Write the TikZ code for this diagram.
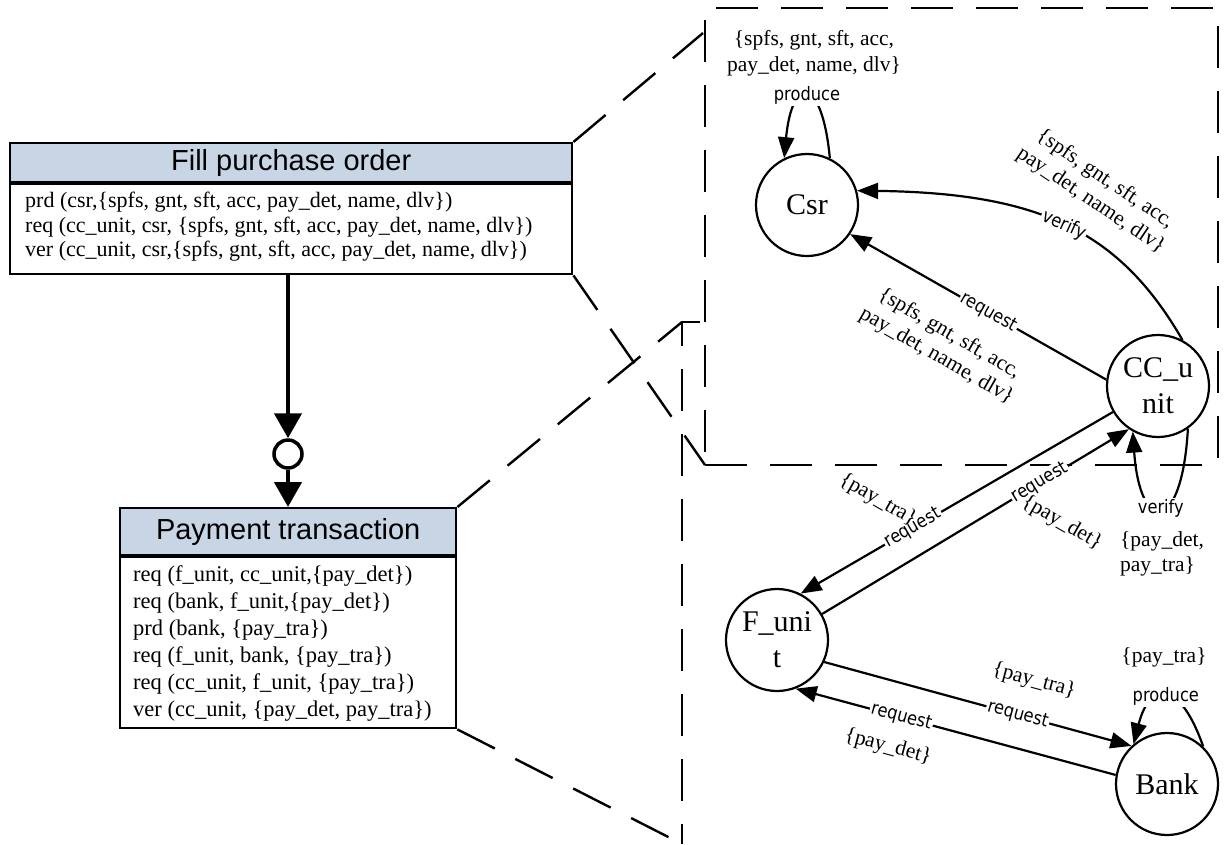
\documentclass[tikz,border=0pt]{standalone}
\usepackage{fontspec}
\setmainfont{Liberation Serif}
\newfontfamily\hdrfont{Liberation Sans}
\newfontfamily\lblfont[FakeStretch=0.88]{DejaVu Sans}
\usetikzlibrary{arrows.meta}
\definecolor{hdrblue}{HTML}{C8D5E5}

\begin{document}
\begin{tikzpicture}[x=1pt,y=-1pt,
  hdrbox/.style={draw, line width=2.4pt, fill=hdrblue, anchor=north west, inner sep=0pt,
    font=\hdrfont\fontsize{29}{32}\selectfont},
  bodybox/.style={draw, line width=2.4pt, fill=white, anchor=north west, inner sep=0pt},
  bodytext/.style={align=left, anchor=west, inner sep=0pt},
  unit/.style={circle, draw, line width=2.2pt, minimum size=102pt, inner sep=0pt,
    align=center, font=\fontsize{30}{36}\selectfont},
  link/.style={line width=2.2pt, -{Triangle[length=21pt,width=16pt]}},
  actlbl/.style={font=\lblfont\fontsize{18.5}{20}\selectfont, fill=white, inner sep=1.5pt},
  datalbl/.style={font=\fontsize{21.5}{25.5}\selectfont, align=center, inner sep=0pt},
  zoomline/.style={line width=2.4pt, dash pattern=on 42pt off 23pt},
  flowarrow/.style={line width=4.5pt, -{Triangle[length=25pt,width=27pt]}}
]
% canvas
\fill[white] (0,0) rectangle (1225,844);
\useasboundingbox (0,0) rectangle (1225,844);

% ---- activity boxes ----
\node[hdrbox, minimum width=562pt, minimum height=39pt] (fillhdr) at (9,142) {Fill purchase order};
\node[bodybox, minimum width=562pt, minimum height=90pt] (fillbody) at (9,183) {};
\node[bodytext, font=\fontsize{22}{24.5}\selectfont] (filltext) at (25,227)
  {prd (csr,\{spfs, gnt, sft, acc, pay\_det, name, dlv\})\\
   req (cc\_unit, csr, \{spfs, gnt, sft, acc, pay\_det, name, dlv\})\\
   ver (cc\_unit, csr,\{spfs, gnt, sft, acc, pay\_det, name, dlv\})};

\node[hdrbox, minimum width=336pt, minimum height=47pt] (payhdr) at (119,507) {Payment transaction};
\node[bodybox, minimum width=336pt, minimum height=171pt] (paybody) at (119,556) {};
\node[bodytext, font=\fontsize{22.5}{27}\selectfont] (paytext) at (133,643)
  {req (f\_unit, cc\_unit,\{pay\_det\})\\
   req (bank, f\_unit,\{pay\_det\})\\
   prd (bank, \{pay\_tra\})\\
   req (f\_unit, bank, \{pay\_tra\})\\
   req (cc\_unit, f\_unit, \{pay\_tra\})\\
   ver (cc\_unit, \{pay\_det, pay\_tra\})};

\node[circle, draw, line width=3.5pt, minimum size=28pt, inner sep=0pt] (join) at (288,454) {};
\draw[flowarrow] (join|-fillbody.south) -- (join.north);
\draw[flowarrow] (join.south) -- (join|-payhdr.north);

% ---- zoom frames ----
\coordinate (upBL) at (705,465);
\coordinate (upBR) at (1218,465);
\coordinate (upTR) at (1218,8);
\coordinate (upTL) at (705,8);
\coordinate (upDiag) at (703,33);
\coordinate (lowTR) at (700,322);
\coordinate (lowTL) at (682,322);
\coordinate (lowBL) at (682,844);

\draw[zoomline] (upBL) -- (upBR) -- (upTR) -- (upTL) -- cycle;
\draw[zoomline] (lowTR) -- (lowTL) -- (lowBL);
\draw[zoomline] (fillhdr.north east) -- (upDiag);
\draw[zoomline] (fillbody.south east) -- (upBL);
\draw[zoomline] (payhdr.north east) -- (lowTL);
\draw[zoomline] (paybody.south east) -- (lowBL);

% ---- interaction graph ----
\node[unit] (csr) at (807,205) {Csr};
\node[unit] (cc) at (1158,386) {CC\_u\\nit};
\node[unit] (fu) at (777,640) {F\_uni\\t};
\node[unit] (bank) at (1167,784) {Bank};

\draw[link] (csr.64) .. controls (822,75) and (792,75) .. node[actlbl, pos=0.5] (csrprd) {produce} (csr.116);
\node[datalbl] (csrdata) at (814,53) {\{spfs, gnt, sft, acc,\\pay\_det, name, dlv\}};

\draw[link] (cc.62) .. controls (1119,230) and (1038,193) .. node[actlbl, sloped, pos=0.5] (ccver) {verify} (csr.16);
\node[datalbl, rotate=-34] (verdata) at (1098,190) {\{spfs, gnt, sft, acc,\\pay\_det, name, dlv\}};

\draw[link] (cc.173) -- node[actlbl, sloped, pos=0.46] (ccreq) {request} (csr.-34);
\node[datalbl, rotate=-30] (reqdata) at (943,345) {\{spfs, gnt, sft, acc,\\pay\_det, name, dlv\}};

\draw[link] (cc.210) -- node[actlbl, sloped, pos=0.64] (ccfu) {request} (fu.63);
\node[datalbl, rotate=-30] (ccfudata) at (878,500) {\{pay\_tra\}};

\draw[link] (fu.30) -- node[actlbl, sloped, pos=0.71] (fucc) {request} (cc.236);
\node[datalbl, rotate=-30] (fuccdata) at (1062,523) {\{pay\_det\}};

\draw[link] (cc.-55) .. controls (1182,535) and (1140,535) .. node[actlbl, pos=0.5] (ccself) {verify} (cc.-119);
\node[datalbl, align=left] (ccselfdata) at (1162,554) {\{pay\_det,\\pay\_tra\}};

\draw[link] (fu.-25) -- node[actlbl, sloped, pos=0.63] (fubank) {request} (bank.133);
\node[datalbl, rotate=-15] (fubankdata) at (1034,681) {\{pay\_tra\}};

\draw[link] (bank.170) -- node[actlbl, sloped, pos=0.67] (bankfu) {request} (fu.-69);
\node[datalbl, rotate=-15] (bankfudata) at (888,747) {\{pay\_det\}};

\draw[link] (bank.46) .. controls (1180,680) and (1150,680) .. node[actlbl, pos=0.5] (bankprd) {produce} (bank.130);
\node[datalbl] (bankdata) at (1164,657) {\{pay\_tra\}};
\end{tikzpicture}
\end{document}
